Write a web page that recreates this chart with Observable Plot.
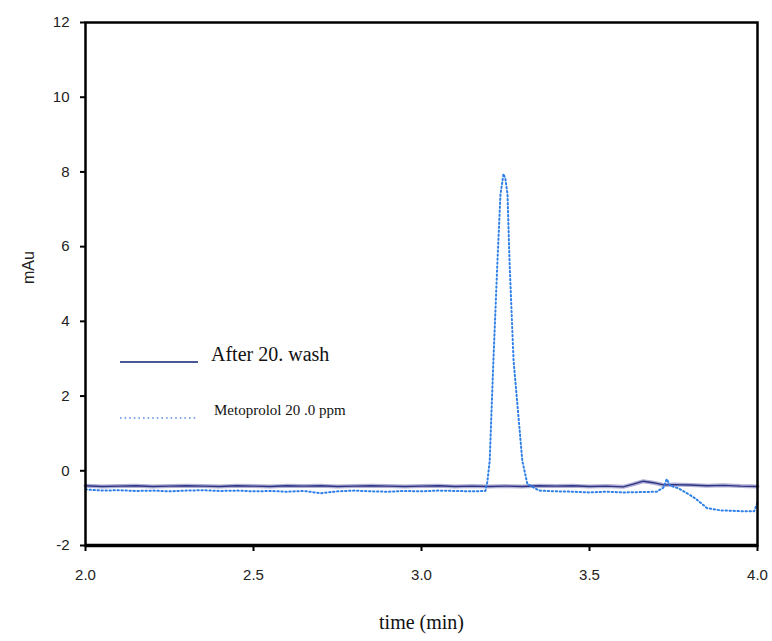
<!DOCTYPE html>
<html>
<head>
<meta charset="utf-8">
<script src="https://cdn.jsdelivr.net/npm/d3@7"></script>
<script src="https://cdn.jsdelivr.net/npm/@observablehq/plot@0.6"></script>
<style>
  html, body { margin: 0; padding: 0; background: #fff; }
  #wrap { position: relative; width: 772px; height: 641px; }
  #legend { position: absolute; left: 0; top: 0; pointer-events: none; }
</style>
</head>
<body>
<div id="wrap"></div>
<script>
// Series "After 20. wash" (solid)
const washTime = [2.0,2.05,2.1,2.15,2.2,2.25,2.3,2.35,2.4,2.45,2.5,2.55,2.6,2.65,2.7,2.75,2.8,2.85,2.9,2.95,3.0,3.05,3.1,3.15,3.2,3.25,3.3,3.35,3.4,3.45,3.5,3.55,3.6,3.63,3.66,3.69,3.72,3.75,3.8,3.85,3.9,3.95,4.0];
const washValue = [-0.40,-0.42,-0.41,-0.40,-0.42,-0.41,-0.40,-0.41,-0.42,-0.40,-0.41,-0.42,-0.40,-0.41,-0.40,-0.42,-0.41,-0.40,-0.41,-0.42,-0.41,-0.40,-0.42,-0.41,-0.42,-0.41,-0.42,-0.40,-0.41,-0.40,-0.42,-0.41,-0.43,-0.36,-0.28,-0.32,-0.38,-0.37,-0.38,-0.40,-0.39,-0.41,-0.42];

// Series "Metoprolol 20 .0 ppm" (dotted)
const metoTime = [2.0,2.05,2.1,2.15,2.2,2.25,2.3,2.35,2.4,2.45,2.5,2.55,2.6,2.65,2.7,2.75,2.8,2.85,2.9,2.95,3.0,3.05,3.1,3.15,3.19,3.196,3.203,3.214,3.226,3.235,3.244,3.25,3.256,3.262,3.274,3.30,3.315,3.35,3.4,3.45,3.5,3.55,3.6,3.65,3.7,3.72,3.73,3.74,3.765,3.79,3.815,3.85,3.89,3.95,3.99,4.0];
const metoValue = [-0.50,-0.53,-0.52,-0.54,-0.53,-0.55,-0.53,-0.52,-0.54,-0.53,-0.55,-0.54,-0.56,-0.54,-0.60,-0.55,-0.53,-0.55,-0.56,-0.54,-0.55,-0.53,-0.54,-0.55,-0.54,-0.30,0.27,2.95,5.6,7.4,7.95,7.8,7.4,5.6,2.95,0.27,-0.35,-0.53,-0.55,-0.56,-0.58,-0.56,-0.58,-0.57,-0.56,-0.45,-0.22,-0.40,-0.47,-0.60,-0.74,-1.00,-1.06,-1.08,-1.08,-0.85];

const xTicks = [2.0, 2.5, 3.0, 3.5, 4.0];
const yTicks = [-2, 0, 2, 4, 6, 8, 10, 12];
const legendLabels = ["After 20. wash", "Metoprolol 20 .0 ppm"];

const wash = washTime.map((t, i) => ({t, v: washValue[i]}));
const meto = metoTime.map((t, i) => ({t, v: metoValue[i]}));

const chart = Plot.plot({
  width: 772,
  height: 641,
  marginLeft: 85,
  marginRight: 15,
  marginTop: 22,
  marginBottom: 96,
  style: {fontFamily: "'Liberation Sans', Arial, sans-serif", fontSize: "15px", color: "#222", background: "#fff"},
  x: {domain: [2, 4]},
  y: {domain: [-2, 12]},
  marks: [
    Plot.line(wash, {x: "t", y: "v", stroke: "#b3aed3", strokeWidth: 4}),
    Plot.line(wash, {x: "t", y: "v", stroke: "#2b3585", strokeWidth: 1.3}),
    Plot.line(meto, {x: "t", y: "v", stroke: "#2f7fe8", strokeWidth: 2, strokeDasharray: "1.4,2.6"}),
    Plot.frame({stroke: "#000", strokeWidth: 2.5}),
    Plot.ruleY([-2], {stroke: "#000", strokeWidth: 3.5}),
    Plot.axisX({ticks: xTicks, tickFormat: d => d.toFixed(1), tickSize: 6, tickPadding: 18, label: null, stroke: "#000", strokeWidth: 2, fill: "#222"}),
    Plot.axisY({ticks: yTicks, tickFormat: d => String(d), tickSize: 5, tickPadding: 11, label: null, stroke: "#000", strokeWidth: 2, fill: "#222"}),
    Plot.text(["time (min)"], {frameAnchor: "bottom", dy: 83, fontFamily: "'Liberation Serif', 'Times New Roman', serif", fontSize: 20, fill: "#111"}),
    Plot.text(["mAu"], {frameAnchor: "left", dx: -57, rotate: -90, fontSize: 16, fill: "#222"})
  ]
});

const wrap = document.getElementById("wrap");
wrap.appendChild(chart);

// Legend overlay
const ns = "http://www.w3.org/2000/svg";
const leg = document.createElementNS(ns, "svg");
leg.setAttribute("id", "legend");
leg.setAttribute("width", 772);
leg.setAttribute("height", 641);
const items = [
  {label: legendLabels[0], y: 362, stroke: "#4a5996", dash: null, w: 2, size: 20, tx: 211},
  {label: legendLabels[1], y: 418, stroke: "#86a8ee", dash: "1.6,3", w: 2, size: 15, tx: 214}
];
items.forEach(it => {
  const l = document.createElementNS(ns, "line");
  l.setAttribute("x1", 120); l.setAttribute("x2", 198);
  l.setAttribute("y1", it.y); l.setAttribute("y2", it.y);
  l.setAttribute("stroke", it.stroke); l.setAttribute("stroke-width", it.w);
  if (it.dash) l.setAttribute("stroke-dasharray", it.dash);
  leg.appendChild(l);
  const t = document.createElementNS(ns, "text");
  t.setAttribute("x", it.tx); t.setAttribute("y", it.y - 6);
  t.setAttribute("dominant-baseline", "middle");
  t.setAttribute("font-family", "'Liberation Serif', 'Times New Roman', serif");
  t.setAttribute("font-size", it.size);
  t.setAttribute("fill", "#111");
  t.textContent = it.label;
  leg.appendChild(t);
});
wrap.appendChild(leg);
</script>
</body>
</html>
